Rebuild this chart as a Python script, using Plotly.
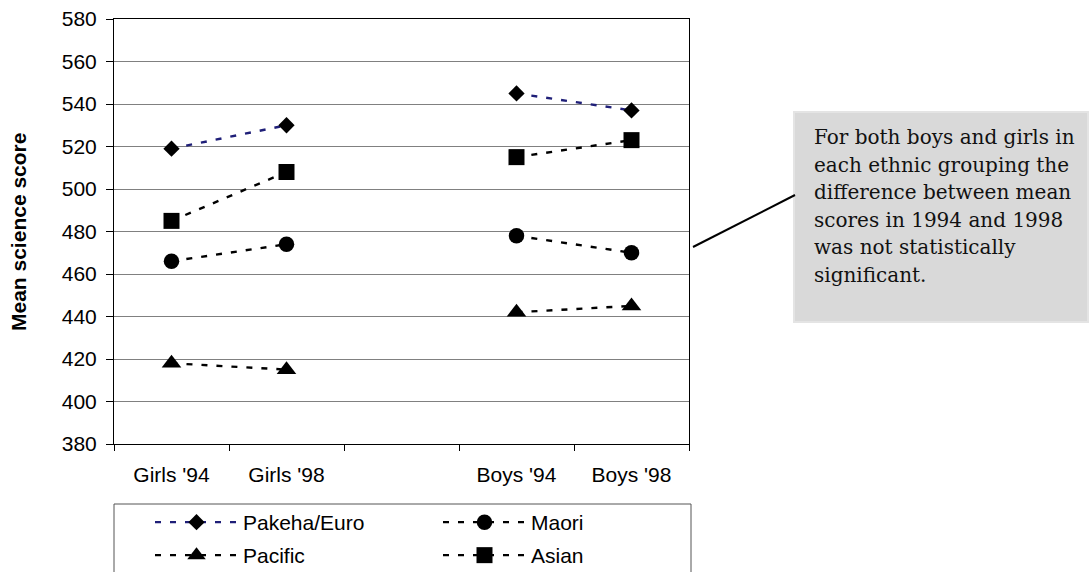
import plotly.graph_objects as go

# Category slots along the x axis (the blank slot separates girls from boys)
categories = ["Girls '94", "Girls '98", " ", "Boys '94", "Boys '98"]

# Mean science scores per ethnic group (None = empty slot)
pakeha_euro = [519, 530, None, 545, 537]
maori = [466, 474, None, 478, 470]
pacific = [418, 415, None, 442, 445]
asian = [485, 508, None, 515, 523]

y_ticks = [380, 400, 420, 440, 460, 480, 500, 520, 540, 560, 580]

note_lines = [
    "For both boys and girls in",
    "each ethnic grouping the",
    "difference between mean",
    "scores in 1994 and 1998",
    "was not statistically",
    "significant.",
]

W, H = 1090, 572
ML, MR, MT, MB = 114, 401, 19, 128
PW, PH = W - ML - MR, H - MT - MB


def px_x(x):
    return (x - ML) / PW


def px_y(y):
    return (H - MB - y) / PH


SANS = "Liberation Sans, Arial, sans-serif"
FS = 21
DASH = "6px,9px"

series = [
    ("Pakeha/Euro", pakeha_euro, "diamond", 12.5, "#1f1f78", "legend"),
    ("Maori", maori, "circle", 15.5, "#000000", "legend"),
    ("Pacific", pacific, "triangle-up", 17, "#000000", "legend2"),
    ("Asian", asian, "square", 16, "#000000", "legend2"),
]

fig = go.Figure()
for name, vals, sym, size, lcol, leg in series:
    fig.add_trace(go.Scatter(
        x=categories, y=vals, name=name, mode="lines+markers",
        connectgaps=False,
        line=dict(color=lcol, width=2.4, dash=DASH),
        marker=dict(symbol=sym, size=size, color="#000000", line=dict(width=0)),
        legend=leg,
    ))

legend_common = dict(
    orientation="h", xanchor="left", yanchor="top",
    x=px_x(150), itemwidth=83, entrywidth=190, entrywidthmode="pixels",
    bgcolor="rgba(0,0,0,0)", borderwidth=0,
    font=dict(family=SANS, size=FS, color="#000000"),
    itemclick=False, itemdoubleclick=False,
)

shapes = [
    # legend frame
    dict(type="rect", xref="paper", yref="paper",
         x0=px_x(114), x1=px_x(691), y0=px_y(504), y1=px_y(580),
         line=dict(color="#555555", width=1), fillcolor="rgba(0,0,0,0)", layer="below"),
    # note box
    dict(type="rect", xref="paper", yref="paper",
         x0=px_x(794), x1=px_x(1088), y0=px_y(112), y1=px_y(322),
         line=dict(color="#e4e4e4", width=2), fillcolor="#d9d9d9"),
    # callout line
    dict(type="line", xref="paper", yref="paper",
         x0=px_x(693), y0=px_y(247), x1=px_x(795), y1=px_y(195),
         line=dict(color="#000000", width=2)),
]

annotations = [
    dict(text="<b>Mean science score</b>", textangle=-90, showarrow=False,
         xref="paper", yref="paper", x=px_x(18), y=px_y(232),
         xanchor="center", yanchor="middle",
         font=dict(family=SANS, size=FS, color="#000000")),
]
for i, line in enumerate(note_lines):
    annotations.append(dict(
        text=line, showarrow=False, xref="paper", yref="paper",
        x=px_x(812), y=px_y(137 + i * 27.6), xanchor="left", yanchor="middle",
        font=dict(family="DejaVu Serif, serif", size=20, color="#111111"),
    ))

fig.update_layout(
    width=W, height=H,
    margin=dict(l=ML, r=MR, t=MT, b=MB, pad=0, autoexpand=False),
    paper_bgcolor="#ffffff", plot_bgcolor="#ffffff",
    showlegend=True,
    legend=dict(**legend_common, y=px_y(502)),
    legend2=dict(**legend_common, y=px_y(535)),
    shapes=shapes, annotations=annotations,
    xaxis=dict(
        type="category", categoryorder="array", categoryarray=categories,
        range=[-0.5, len(categories) - 0.5], tickson="boundaries",
        ticks="outside", ticklen=6, tickcolor="#000000", tickwidth=1,
        showline=True, linecolor="#000000", linewidth=1, mirror=True,
        showgrid=False, ticklabelstandoff=12,
        tickfont=dict(family=SANS, size=FS, color="#000000"),
    ),
    yaxis=dict(
        range=[380, 580], tickvals=y_ticks, ticks="outside", ticklen=7,
        tickcolor="#000000", tickwidth=1,
        showline=True, linecolor="#000000", linewidth=1, mirror=True,
        showgrid=True, gridcolor="#808080", gridwidth=1, zeroline=False,
        ticklabelstandoff=5,
        tickfont=dict(family=SANS, size=FS, color="#000000"),
    ),
)

fig.write_html("out.html")
